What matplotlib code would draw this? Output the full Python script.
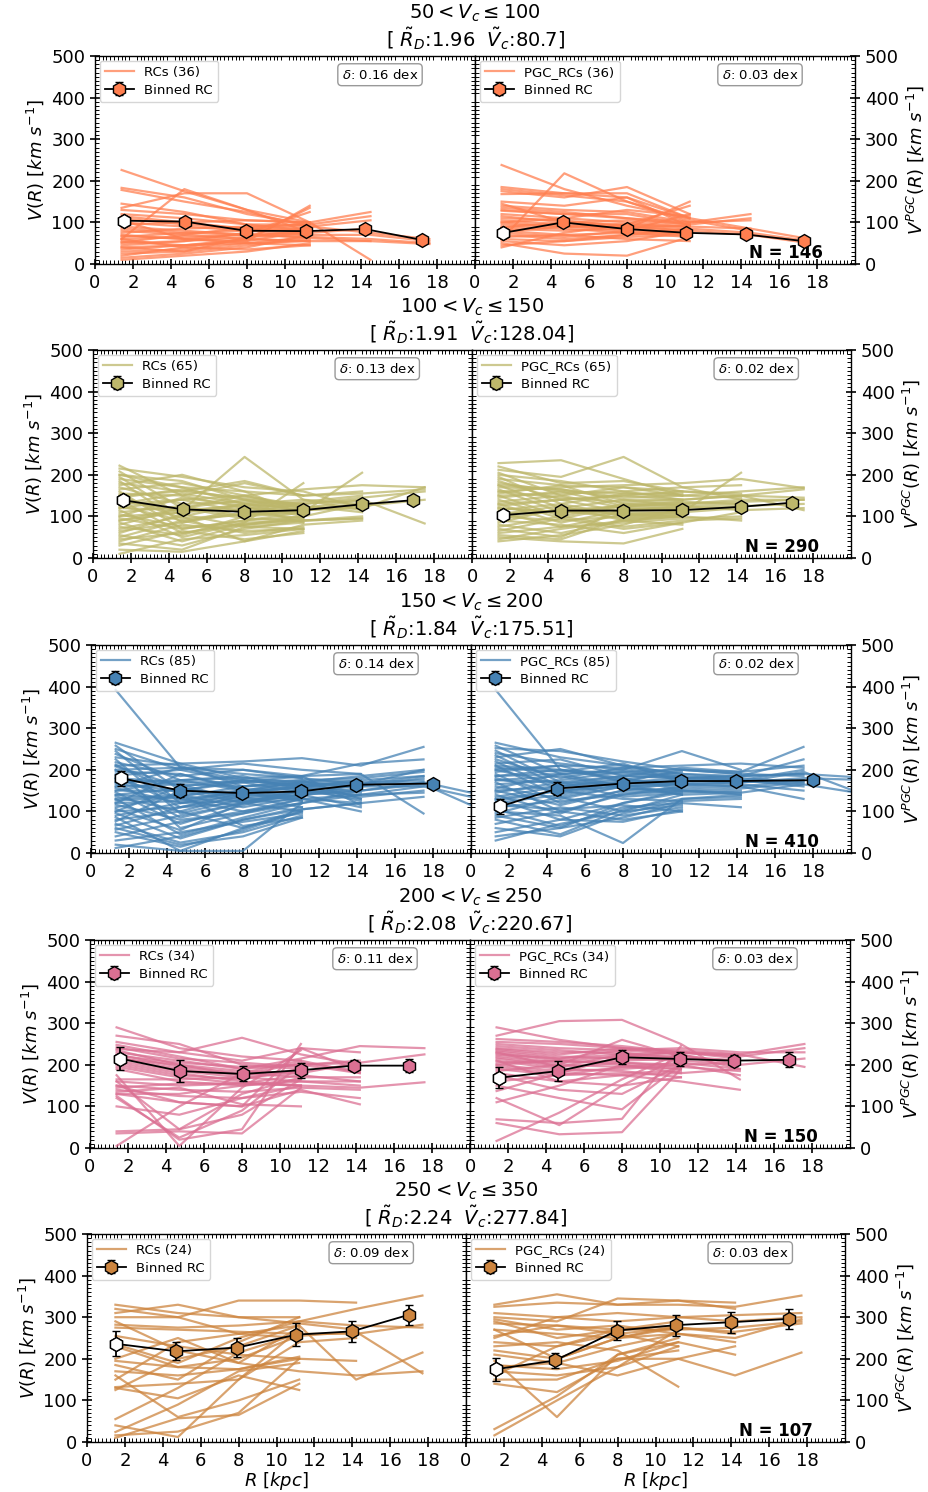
import matplotlib
matplotlib.use("Agg")
import matplotlib.pyplot as plt
from matplotlib.lines import Line2D
from matplotlib.ticker import MultipleLocator

# velocity bins (title text)
VC_BINS = [(50, 100), (100, 150), (150, 200), (200, 250), (250, 350)]
RD_MED = ["1.96", "1.91", "1.84", "2.08", "2.24"]
VC_MED = ["80.7", "128.04", "175.51", "220.67", "277.84"]
N_RC = [36, 65, 85, 34, 24]
N_GAL = [146, 290, 410, 150, 107]
DELTA_RC = ["0.16", "0.13", "0.14", "0.11", "0.09"]
DELTA_PGC = ["0.03", "0.02", "0.02", "0.03", "0.03"]
COLORS = ["#FF7F50", "#BDB76B", "#4682B4", "#DB7093", "#CD853F"]

# radii where the individual curves are sampled [kpc]
R_CURVE = [
    [1.4, 4.7, 8.0, 11.3, 14.5, 17.6],
    [1.4, 4.7, 8.0, 11.1, 14.2, 17.5],
    [1.3, 4.7, 8.0, 11.1, 14.2, 17.5, 21.0],
    [1.4, 4.7, 8.0, 11.1, 14.2, 17.6],
    [1.5, 4.8, 8.0, 11.2, 14.2, 17.7],
]

# individual rotation curves, V [km/s] at R_CURVE
RC_50_100 = [
    [226, 175, 130, 100], [183, 160, 120, 95], [178, 150, 125, 90, 75, 60],
    [60, 180, 130, 75], [135, 170, 170, 100, 10], [130, 120, 105, 100, 125],
    [120, 110, 95, 95, 115], [110, 95, 85, 90, 105], [100, 90, 80, 70, 70, 55],
    [90, 80, 70, 65, 60, 50], [80, 70, 60, 55, 55, 48], [70, 60, 55, 140],
    [55, 45, 60, 135], [45, 55, 75, 125], [35, 45, 55, 80], [25, 30, 45, 60],
    [15, 25, 40, 70], [10, 20, 30, 50], [65, 75, 80, 85], [75, 85, 90, 95],
    [60, 65, 70, 75], [50, 55, 65, 70], [95, 100, 105, 100], [40, 45, 50, 55],
    [30, 35, 50, 65], [85, 75, 70, 75, 85], [115, 100, 85, 80],
    [68, 60, 72, 62, 55], [52, 70, 88, 95], [40, 30, 65, 82],
    [145, 125, 95, 80], [20, 40, 60, 55], [105, 60, 50, 45], [60, 40, 35, 45],
]
PGC_50_100 = [
    [238, 180, 140, 110], [185, 170, 160, 110], [180, 165, 150, 105, 80],
    [175, 160, 185, 120], [60, 218, 150, 100], [168, 170, 170, 110, 85],
    [150, 140, 160, 90], [140, 130, 125, 100, 120], [135, 125, 110, 95, 110],
    [128, 120, 110, 100, 105], [120, 110, 100, 90, 85, 60],
    [115, 100, 95, 85, 75, 55], [110, 105, 90, 80, 70, 50], [105, 95, 85, 150],
    [100, 90, 95, 140], [95, 90, 80, 70], [90, 85, 75, 65], [85, 80, 85, 75],
    [80, 70, 75, 80], [75, 65, 80, 120], [70, 60, 70, 85], [65, 70, 60, 55],
    [60, 55, 65, 70], [55, 45, 55, 80], [50, 25, 20, 65], [45, 55, 70, 75],
    [40, 75, 95, 90], [100, 110, 130, 115], [130, 120, 120, 95],
    [145, 100, 90, 80], [88, 100, 105, 95], [78, 90, 88, 92],
]
RC_100_150 = [
    [222, 150, 180, 150], [215, 195, 170, 160, 120], [208, 120, 150, 125],
    [200, 185, 140, 110], [195, 100, 130, 140, 130], [190, 170, 130, 120],
    [185, 85, 110, 130], [180, 160, 145, 125, 110], [175, 200, 160, 105],
    [170, 130, 135, 130, 145, 160], [165, 180, 150, 120, 130],
    [160, 70, 90, 100], [155, 150, 120, 115, 120, 170], [150, 95, 105, 110],
    [145, 165, 140, 120, 140], [140, 60, 80, 95], [135, 115, 243, 140, 115],
    [130, 155, 130, 100], [125, 90, 105, 115, 125, 140], [120, 140, 110, 95],
    [115, 50, 85, 90, 100], [110, 125, 100, 110], [105, 75, 80, 90, 95],
    [100, 145, 125, 85], [95, 70, 90, 110, 205], [90, 110, 130, 115],
    [85, 40, 80, 100, 130], [80, 120, 95, 90], [75, 55, 100, 120],
    [70, 100, 40, 80, 90], [65, 85, 120, 110], [60, 105, 75, 70],
    [55, 30, 70, 90, 95], [50, 90, 60, 75], [45, 60, 85, 180],
    [40, 80, 65, 70], [35, 20, 75, 85], [30, 65, 45, 60], [20, 15, 40, 65],
    [10, 45, 55, 70], [130, 140, 150, 165, 175, 170],
    [100, 110, 120, 130, 140, 83], [150, 160, 185, 150, 160],
    [90, 120, 140, 130], [200, 170, 160, 150, 155, 165],
    [120, 115, 125, 135, 150],
]
PGC_100_150 = [
    [228, 235, 190, 150], [220, 180, 185, 160], [212, 195, 243, 170, 140],
    [205, 150, 170, 150], [200, 185, 160, 140, 150, 165], [195, 130, 155, 155],
    [190, 175, 170, 160, 155], [185, 140, 150, 140],
    [180, 160, 155, 150, 160, 170], [175, 120, 140, 140],
    [170, 165, 145, 150, 145], [165, 110, 125, 135],
    [160, 145, 135, 140, 150, 145], [155, 175, 130, 125],
    [150, 100, 130, 135, 130], [145, 160, 125, 120],
    [140, 95, 125, 130, 135, 140], [135, 150, 120, 115],
    [130, 85, 115, 125, 130], [125, 140, 110, 110],
    [120, 110, 115, 120, 125, 130], [115, 130, 100, 105],
    [110, 75, 105, 110, 120], [105, 125, 90, 100], [100, 90, 100, 110, 205],
    [95, 115, 95, 105], [90, 80, 60, 85, 110], [85, 120, 105, 110],
    [80, 60, 90, 100], [75, 100, 75, 90, 95], [70, 50, 120, 115],
    [65, 95, 70, 85], [60, 75, 85, 95, 100], [55, 45, 95, 100],
    [50, 40, 35, 70], [45, 70, 90, 80], [40, 55, 80, 120],
    [160, 170, 175, 180, 190, 168], [130, 140, 150, 160, 150, 115],
    [105, 115, 125, 130, 140, 140], [150, 155, 160, 170, 175],
    [120, 110, 105, 100, 90], [175, 165, 140, 125, 115, 120],
]
RC_150_200 = [
    [392, 205, 175, 160], [265, 215, 180, 170, 160],
    [258, 150, 120, 140, 165, 185], [250, 200, 215, 200, 190],
    [245, 120, 140, 165, 160, 160, 125], [238, 175, 185, 150],
    [230, 210, 160, 170, 175], [225, 95, 130, 145],
    [218, 185, 200, 180, 165, 200], [212, 140, 110, 135],
    [208, 160, 175, 160, 170], [200, 60, 95, 130],
    [196, 190, 150, 155, 160, 180], [190, 110, 145, 125],
    [186, 200, 170, 145, 155], [180, 130, 100, 120],
    [176, 165, 125, 140, 150, 170], [170, 85, 120, 150],
    [166, 150, 175, 165, 145], [160, 205, 190, 180],
    [156, 120, 125, 140, 150, 165, 95], [150, 175, 150, 125],
    [146, 70, 115, 150, 140], [140, 155, 135, 110],
    [136, 100, 140, 160, 135, 150], [130, 45, 85, 120],
    [126, 135, 160, 175, 130], [120, 190, 155, 130],
    [116, 80, 95, 120, 140, 145], [110, 140, 65, 85],
    [106, 55, 120, 155, 125], [100, 160, 120, 100],
    [96, 35, 80, 105, 120, 135], [90, 120, 150, 170], [86, 5, 5, 120, 150],
    [80, 100, 60, 100], [76, 150, 170, 185, 115], [70, 25, 50, 90],
    [66, 110, 135, 150, 130], [60, 20, 40, 85], [56, 90, 120, 140, 110],
    [50, 15, 55, 100], [40, 75, 100, 130, 100], [30, 50, 75, 95],
    [20, 5, 60, 105, 120], [12, 40, 80, 110],
    [210, 215, 220, 228, 210, 255], [200, 205, 200, 185, 215, 225],
    [180, 170, 170, 175, 180, 195], [160, 165, 160, 165, 170, 175],
    [130, 140, 150, 160, 165, 170, 135], [100, 110, 120, 130, 140, 160],
    [170, 175, 180, 185, 190, 95], [150, 150, 140, 130, 120],
    [140, 130, 145, 160, 175, 185], [120, 125, 150, 170, 185, 200],
]
PGC_150_200 = [
    [392, 200, 175, 170], [265, 230, 210, 190, 180],
    [258, 190, 200, 180, 175, 200], [252, 245, 220, 200, 190],
    [246, 170, 185, 205, 195, 210], [240, 215, 200, 245, 200],
    [235, 160, 175, 195], [230, 250, 210, 190, 185, 190],
    [225, 180, 205, 185], [220, 150, 170, 200, 195, 255],
    [215, 225, 185, 180], [210, 135, 160, 175, 170, 180, 175],
    [205, 195, 215, 170], [200, 165, 185, 180, 185, 225],
    [195, 210, 170, 165], [190, 120, 150, 170, 175, 160],
    [185, 200, 180, 155], [180, 145, 170, 165, 160, 175],
    [175, 185, 155, 150], [170, 100, 140, 160, 165, 150],
    [165, 175, 195, 180], [160, 130, 160, 165, 170, 195, 135],
    [155, 190, 160, 140], [150, 115, 150, 155, 160, 130],
    [145, 170, 135, 145], [140, 95, 145, 150, 155, 170],
    [135, 160, 180, 150], [130, 80, 120, 145, 150],
    [125, 150, 130, 125], [120, 140, 165, 140, 145, 165],
    [115, 105, 115, 100], [110, 125, 140, 150, 140],
    [105, 65, 110, 120], [100, 90, 24, 130, 135], [95, 135, 100, 115],
    [90, 60, 120, 150, 145], [85, 110, 90, 110], [80, 45, 105, 130, 140],
    [70, 100, 80, 100], [60, 40, 95, 125, 130], [50, 80, 75, 105],
    [40, 60, 85, 120, 110], [30, 70, 100, 140],
    [150, 160, 170, 180, 185, 190, 180], [185, 190, 195, 200, 190, 185],
    [130, 150, 160, 165, 170, 175], [200, 210, 205, 210, 215, 205],
    [175, 170, 165, 175, 180, 170], [210, 200, 190, 185, 175, 165, 140],
]
RC_200_250 = [
    [290, 240, 220, 210, 180], [270, 250, 200, 190],
    [255, 230, 210, 240, 185], [248, 220, 190, 200, 205, 225],
    [242, 215, 205, 195], [238, 230, 265, 225, 200], [235, 200, 185, 180],
    [230, 210, 190, 215, 245, 240], [225, 195, 180, 170, 170],
    [222, 205, 195, 200, 210], [218, 190, 175, 185],
    [215, 200, 175, 205, 185], [210, 185, 170, 180, 205],
    [205, 180, 160, 150], [200, 175, 165, 190], [195, 170, 155, 175, 160],
    [190, 160, 150, 165], [165, 165, 170, 160, 150],
    [160, 150, 155, 150, 145, 158], [150, 140, 135, 145, 140],
    [145, 155, 155, 150], [140, 125, 120, 135, 120], [135, 145, 105, 100],
    [130, 110, 100, 240, 230], [125, 20, 45, 250], [120, 25, 90, 200, 180],
    [160, 45, 130, 170], [40, 45, 80, 165], [35, 40, 35, 145],
    [5, 100, 180, 210], [150, 110, 100, 140, 105], [175, 5, 145, 235],
    [130, 130, 150, 160, 160], [100, 80, 120, 150],
]
PGC_200_250 = [
    [290, 260, 240, 230, 215], [270, 305, 308, 250, 165],
    [262, 255, 245, 230, 220, 240], [255, 250, 240, 225, 200],
    [250, 240, 235, 240, 230, 230], [245, 235, 225, 220, 210],
    [240, 230, 230, 215], [238, 225, 240, 235, 225, 195],
    [235, 220, 215, 210], [232, 215, 225, 230, 220], [228, 210, 205, 200],
    [225, 215, 235, 225, 190], [222, 205, 210, 215, 210],
    [218, 200, 195, 190], [215, 195, 205, 195, 185], [210, 190, 185, 170],
    [205, 210, 200, 180], [200, 185, 190, 200, 175],
    [195, 180, 175, 160, 140], [190, 175, 180, 185], [185, 200, 260, 220],
    [180, 160, 150, 170], [160, 175, 195, 205, 190],
    [150, 120, 93, 200, 205], [137, 180, 220, 215], [69, 60, 70, 245],
    [120, 55, 150, 220], [17, 85, 165, 230], [60, 33, 38, 190],
    [175, 140, 130, 200], [200, 210, 220, 230, 225, 250],
    [210, 160, 175, 180, 190], [230, 195, 225, 210, 200, 215],
    [110, 150, 200, 190],
]
RC_250_350 = [
    [330, 310, 300, 285, 270], [320, 300, 260, 250], [310, 330, 300, 300],
    [300, 300, 340, 340, 335], [290, 220, 190, 275],
    [282, 275, 280, 290, 320, 352], [275, 270, 265, 260, 260, 282],
    [255, 230, 210, 200], [235, 190, 250, 290, 280, 275],
    [200, 250, 190, 170, 160, 170], [195, 180, 175, 205],
    [170, 160, 175, 200, 195], [150, 240, 260, 280],
    [132, 140, 150, 240, 250], [125, 200, 230, 280, 150, 215],
    [130, 105, 160, 125], [160, 60, 100, 150], [55, 130, 215, 260],
    [40, 12, 150, 270], [24, 90, 170, 190], [16, 25, 70, 200],
    [10, 57, 65, 140], [185, 150, 240, 300], [230, 180, 200, 255, 265, 165],
]
PGC_250_350 = [
    [330, 355, 330, 340, 335], [325, 335, 330, 330, 325, 352],
    [310, 300, 290, 300, 290, 300], [300, 290, 345, 340, 320],
    [295, 270, 280, 260, 240], [290, 250, 270, 270, 275, 290],
    [285, 280, 260, 230], [270, 260, 250, 275, 260], [255, 280, 270, 290],
    [240, 230, 260, 275, 265, 285], [230, 240, 220, 133],
    [220, 200, 250, 260], [210, 190, 160, 200, 160, 215],
    [195, 60, 210, 240], [185, 175, 195, 240, 210], [170, 160, 180, 270],
    [160, 230, 270, 280], [150, 150, 200, 200, 230], [140, 120, 200, 220],
    [31, 110, 210, 250], [16, 100, 180, 230],
    [250, 300, 310, 300, 305, 310], [180, 190, 230, 260, 250, 295],
    [270, 200, 250, 280],
]

# binned rotation curves (observed / PGC)
BIN_R_RC = [
    [1.55, 4.72, 7.94, 11.1, 14.2, 17.2],
    [1.58, 4.74, 7.98, 11.09, 14.17, 16.9],
    [1.58, 4.69, 7.94, 11.03, 13.96, 18.0],
    [1.58, 4.74, 8.05, 11.09, 13.9, 16.8],
    [1.53, 4.72, 7.93, 11.05, 13.98, 17.0],
]
BIN_V_RC = [
    [104, 102, 80, 79, 84, 58],
    [139, 117, 111, 115, 129, 139],
    [180, 150, 144, 148, 164, 167],
    [215, 185, 178, 187, 198, 198],
    [236, 218, 227, 258, 266, 306],
]
BIN_E_RC = [
    [5, 5, 5, 5, 5, 5],
    [12, 9, 8, 8, 8, 6],
    [18, 15, 12, 12, 8, 5],
    [28, 26, 18, 18, 14, 15],
    [30, 22, 23, 27, 25, 24],
]
BIN_R_PGC = [
    [1.5, 4.63, 8.0, 11.1, 14.26, 17.3],
    [1.63, 4.7, 7.98, 11.1, 14.17, 16.9],
    [1.55, 4.55, 8.0, 11.05, 13.95, 18.0],
    [1.55, 4.65, 8.0, 11.05, 13.9, 16.8],
    [1.58, 4.7, 7.98, 11.1, 14.0, 17.07],
]
BIN_V_PGC = [
    [75, 100, 84, 75, 71, 55],
    [103, 114, 114, 115, 123, 133],
    [112, 155, 167, 173, 173, 175],
    [169, 185, 218, 214, 210, 212],
    [175, 196, 268, 281, 288, 296],
]
BIN_E_PGC = [
    [5, 5, 5, 5, 5, 5],
    [9, 7, 7, 7, 7, 6],
    [18, 15, 12, 12, 8, 5],
    [25, 23, 17, 17, 14, 18],
    [28, 18, 22, 25, 25, 24],
]

CURVES_RC = [RC_50_100, RC_100_150, RC_150_200, RC_200_250, RC_250_350]
CURVES_PGC = [PGC_50_100, PGC_100_150, PGC_150_200, PGC_200_250, PGC_250_350]

# panel geometry in pixels
W, H = 929, 1492
ROW_LEFT = [95, 93, 91, 90, 87]
ROW_TOP = [56, 350, 645, 940, 1234]
PANEL_W = [380, 379, 380, 380, 379]
PANEL_H = 208

fig = plt.figure(figsize=(W / 100, H / 100), dpi=100)


def style_axes(ax, side):
    ax.set_xlim(0, 20)
    ax.set_ylim(0, 500)
    ax.set_xticks(range(0, 19, 2))
    ax.set_yticks(range(0, 501, 100))
    ax.xaxis.set_minor_locator(MultipleLocator(0.2))
    ax.yaxis.set_minor_locator(MultipleLocator(10))
    ax.tick_params(which="major", direction="inout", length=7, width=1.2,
                   labelsize=13, top=False,
                   left=(side == "left"), right=(side == "right"),
                   labelleft=(side == "left"), labelright=(side == "right"))
    ax.tick_params(which="minor", direction="in", length=3, width=0.7,
                   top=True, bottom=True, left=True, right=True)
    for sp in ax.spines.values():
        sp.set_linewidth(1.0)


def draw_panel(ax, r_grid, curves, color, br, bv, be, label, delta, side):
    for v in curves:
        ax.plot(r_grid[:len(v)], v, color=color, alpha=0.75, lw=1.6, zorder=2)
    eb = ax.errorbar(br, bv, yerr=be, fmt="-", color="k", lw=1.3,
                     ecolor="k", elinewidth=1.3, capsize=3, capthick=1.3,
                     marker="h", ms=10, mfc=color, mec="k", mew=1.0, zorder=5)
    ax.plot(br[0], bv[0], marker="h", ms=10, mfc="white", mec="k", mew=1.0,
            ls="none", zorder=6)
    h_line = Line2D([], [], color=color, alpha=0.75, lw=1.6)
    leg = ax.legend([h_line, eb], [label, "Binned RC"], loc="upper left",
                    fontsize=9.5, frameon=True, fancybox=True,
                    borderaxespad=0.35, handlelength=2.2, labelspacing=0.35)
    leg.get_frame().set_edgecolor("#cccccc")
    ax.text(0.75, 0.91, r"$\delta$: " + delta + " dex", transform=ax.transAxes,
            ha="center", va="center", fontsize=9.5,
            bbox=dict(boxstyle="round,pad=0.3", fc="white", ec="#999999"))
    style_axes(ax, side)


for i in range(5):
    x0, top, pw = ROW_LEFT[i], ROW_TOP[i], PANEL_W[i]
    yb = 1 - (top + PANEL_H) / H
    axl = fig.add_axes([x0 / W, yb, pw / W, PANEL_H / H])
    axr = fig.add_axes([(x0 + pw) / W, yb, pw / W, PANEL_H / H])

    draw_panel(axl, R_CURVE[i], CURVES_RC[i], COLORS[i], BIN_R_RC[i],
               BIN_V_RC[i], BIN_E_RC[i], f"RCs ({N_RC[i]})", DELTA_RC[i], "left")
    draw_panel(axr, R_CURVE[i], CURVES_PGC[i], COLORS[i], BIN_R_PGC[i],
               BIN_V_PGC[i], BIN_E_PGC[i], f"PGC_RCs ({N_RC[i]})", DELTA_PGC[i],
               "right")

    axl.set_ylabel(r"$V(R)\ [km\ s^{-1}]$", fontsize=13)
    axr.yaxis.set_label_position("right")
    axr.set_ylabel(r"$V^{PGC}(R)\ [km\ s^{-1}]$", fontsize=13)
    axr.text(0.915, 0.012, f"N = {N_GAL[i]}", transform=axr.transAxes,
             ha="right", va="bottom", fontsize=12, fontweight="bold", zorder=4)

    lo, hi = VC_BINS[i]
    xc = (x0 + pw) / W
    fig.text(xc, 1 - (top - 43) / H, rf"${lo} < V_c \leq {hi}$",
             ha="center", va="center", fontsize=14)
    fig.text(xc, 1 - (top - 17) / H,
             r"[ $\tilde{R}_D$:" + RD_MED[i] + r"  $\tilde{V}_c$:" + VC_MED[i] + "]",
             ha="center", va="center", fontsize=14)

    if i == 4:
        axl.set_xlabel(r"$R\ [kpc]$", fontsize=13, labelpad=0)
        axr.set_xlabel(r"$R\ [kpc]$", fontsize=13, labelpad=0)

fig.savefig("out.png", dpi=100)
